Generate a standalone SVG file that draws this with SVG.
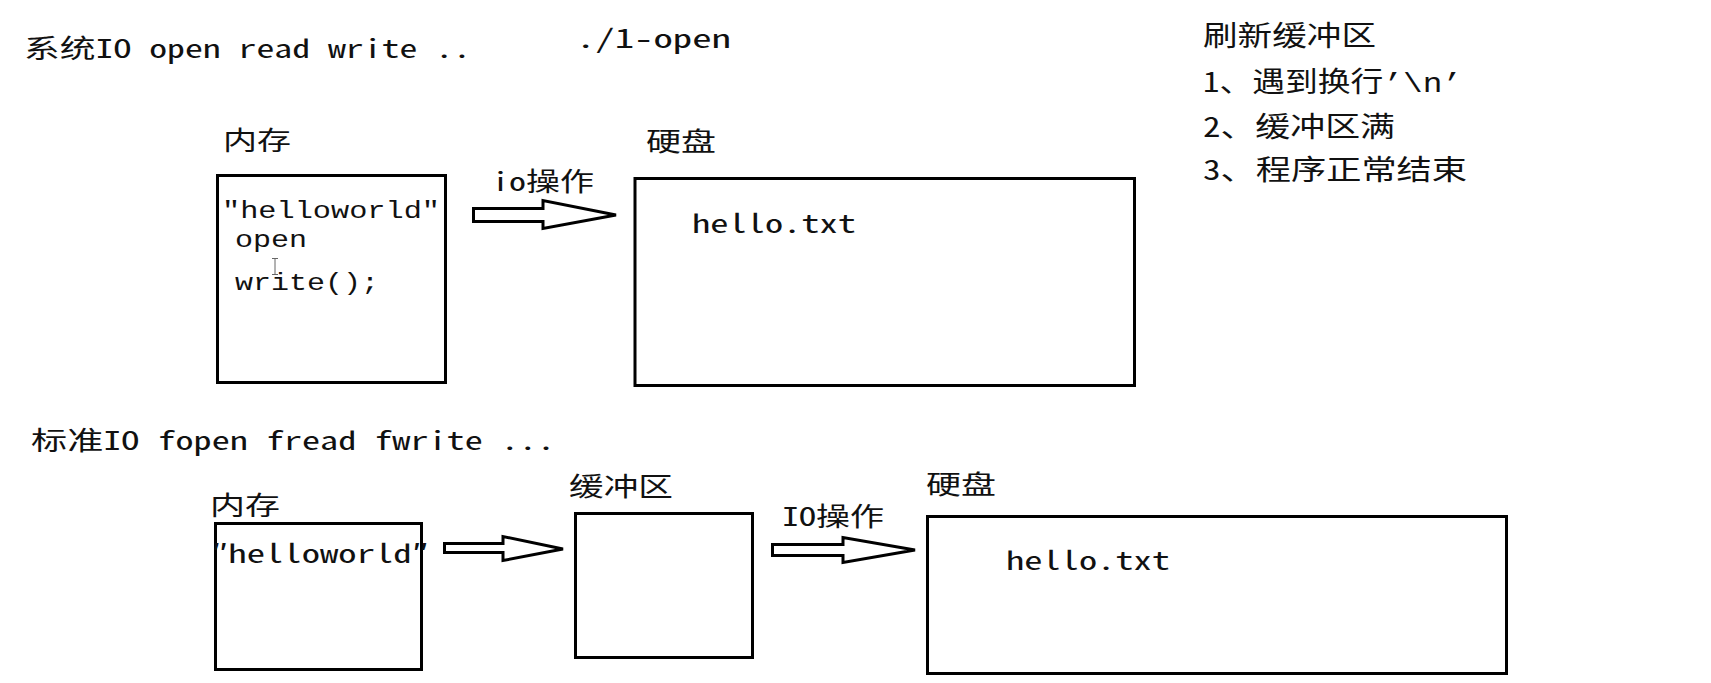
<svg xmlns="http://www.w3.org/2000/svg" width="1711" height="683" viewBox="0 0 1711 683">
<style>
.t{font-family:"Noto Sans Mono CJK SC","Liberation Mono","Noto Sans CJK SC",monospace;font-size:26px;fill:#111}
.s{font-size:24px}
.l{font-size:28px}
.m{font-family:"Liberation Mono","DejaVu Sans Mono","Noto Sans CJK SC",monospace}
.box{fill:#fff;stroke:#000;stroke-width:3}
.arr{fill:#fff;stroke:#000;stroke-width:3;stroke-linejoin:miter}
</style>
<rect width="1711" height="683" fill="#fff"/>
<g id="titles">
<text class="t" x="24" y="58" textLength="447" lengthAdjust="spacingAndGlyphs">系统IO open read write ..</text>
<text class="t" x="576" y="48" textLength="155" lengthAdjust="spacingAndGlyphs">./1-open</text>
<text class="t" x="31" y="450" textLength="524" lengthAdjust="spacingAndGlyphs">标准IO fopen fread fwrite ...</text>
</g>
<g id="flush-rules">
<text class="t l" x="1203" y="46" textLength="173" lengthAdjust="spacingAndGlyphs">刷新缓冲区</text>
<text class="t l" x="1203" y="92" textLength="259" lengthAdjust="spacingAndGlyphs">1、遇到换行<tspan class="m">’\n’</tspan></text>
<text class="t l" x="1203" y="137" textLength="192" lengthAdjust="spacingAndGlyphs">2、缓冲区满</text>
<text class="t l" x="1203" y="180" textLength="264" lengthAdjust="spacingAndGlyphs">3、程序正常结束</text>
</g>
<g id="mem1">
<text class="t" x="223" y="150" textLength="68" lengthAdjust="spacingAndGlyphs">内存</text>
<rect class="box" x="217.5" y="175.5" width="228" height="207"/>
<text class="t s m" x="222" y="218" textLength="218" lengthAdjust="spacingAndGlyphs">″helloworld″</text>
<text class="t s m" x="235" y="247" textLength="72" lengthAdjust="spacingAndGlyphs">open</text>
<text class="t s m" x="235" y="290" textLength="144" lengthAdjust="spacingAndGlyphs">write();</text>
<path d="M272 258.5h6M275 258.5v16M272 274.5h6" fill="none" stroke="#666" stroke-width="1"/>
</g>
<g id="disk1">
<text class="t" x="646" y="151" textLength="70" lengthAdjust="spacingAndGlyphs">硬盘</text>
<rect class="box" x="635" y="178.5" width="499.5" height="207"/>
<text class="t" x="692" y="233" textLength="164" lengthAdjust="spacingAndGlyphs">hello.txt</text>
</g>
<g id="mem2">
<text class="t" x="210" y="515" textLength="70" lengthAdjust="spacingAndGlyphs">内存</text>
<rect class="box" x="215.5" y="523.5" width="206" height="146"/>
<text class="t" x="211" y="563" textLength="218" lengthAdjust="spacingAndGlyphs">″helloworld″</text>
</g>
<g id="buffer">
<text class="t" x="569" y="496" textLength="104" lengthAdjust="spacingAndGlyphs">缓冲区</text>
<rect class="box" x="575.5" y="513.5" width="177" height="144"/>
</g>
<g id="disk2">
<text class="t" x="926" y="494" textLength="70" lengthAdjust="spacingAndGlyphs">硬盘</text>
<rect class="box" x="927.5" y="516.5" width="579" height="157"/>
<text class="t" x="1006" y="570" textLength="164" lengthAdjust="spacingAndGlyphs">hello.txt</text>
</g>
<g id="connectors">
<path class="arr" d="M473.5 208.5H543V200.5L616 215L543 228.5V221.5H473.5Z"/>
<text class="t" x="492" y="191" textLength="102" lengthAdjust="spacingAndGlyphs">io操作</text>
<path class="arr" d="M444.5 543.5H503V536.5L563 549L503 560.5V552.5H444.5Z"/>
<path class="arr" d="M772.5 544.5H843V537.5L915 550L843 562.5V555.5H772.5Z"/>
<text class="t" x="782" y="526" textLength="102" lengthAdjust="spacingAndGlyphs">IO操作</text>
</g>
</svg>
